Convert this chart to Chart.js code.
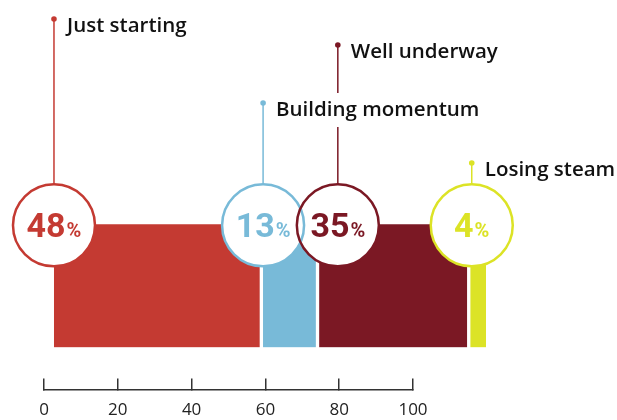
<!DOCTYPE html>
<html>
<head>
<meta charset="utf-8">
<script src="https://cdn.jsdelivr.net/npm/chart.js@4.4.1/dist/chart.umd.min.js"></script>
<style>
html, body { margin: 0; padding: 0; background: #fff; }
#wrap { width: 617px; height: 420px; }
</style>
</head>
<body>
<div id="wrap"><canvas id="mycanvas" width="617" height="420"></canvas></div>
<script>
var stages = ['Just starting', 'Building momentum', 'Well underway', 'Losing steam'];
var shares = [48, 13, 35, 4];
var colours = ['#c43a32', '#78bad8', '#7b1824', '#dce326'];
// where each percentage bubble sits along the bar (bar units)
var markerAt = [0, 48.4, 65.7, 96.7];
var axisTicks = [0, 20, 40, 60, 80, 100];

// height of the leader dot for each label
var dotY = [19, 103, 45, 163];

var markers = {
    id: 'markers',
    afterDatasetsDraw: function(chart) {
        var ctx = chart.ctx;
        var xb = chart.scales.xb;
        var bar = chart.getDatasetMeta(0).data[0];
        var cy = bar.y - bar.height / 2 + 1;
        var r = 41;
        var xs = markerAt.map(function(v) { return xb.getPixelForValue(v); });

        ctx.save();
        // leader lines + dots
        for (var i = 0; i < stages.length; i++) {
            ctx.strokeStyle = colours[i];
            ctx.fillStyle = colours[i];
            ctx.lineWidth = 1.5;
            ctx.beginPath();
            ctx.moveTo(xs[i], dotY[i]);
            ctx.lineTo(xs[i], cy - r);
            ctx.stroke();
            ctx.beginPath();
            ctx.arc(xs[i], dotY[i], 2.8, 0, Math.PI * 2);
            ctx.fill();
        }
        // labels, with a white backing so they cut through other lines
        ctx.font = '600 20.5px "Open Sans"';
        ctx.textBaseline = 'middle';
        ctx.textAlign = 'left';
        for (var i = 0; i < stages.length; i++) {
            var tx = xs[i] + 13, ty = dotY[i] + 7;
            var w = ctx.measureText(stages[i]).width;
            ctx.fillStyle = '#fff';
            ctx.fillRect(tx - 4, ty - 17, w + 8, 34);
            ctx.fillStyle = '#111';
            ctx.fillText(stages[i], tx, ty);
        }
        // bubbles: fills first, then outlines so both arcs show where they overlap
        for (var i = 0; i < stages.length; i++) {
            ctx.fillStyle = '#fff';
            ctx.beginPath();
            ctx.arc(xs[i], cy, r, 0, Math.PI * 2);
            ctx.fill();
        }
        for (var i = 0; i < stages.length; i++) {
            ctx.strokeStyle = colours[i];
            ctx.lineWidth = 2.5;
            ctx.beginPath();
            ctx.arc(xs[i], cy, r, 0, Math.PI * 2);
            ctx.stroke();

            var num = String(shares[i]);
            ctx.font = 'bold 34px Roboto';
            var wn = ctx.measureText(num).width;
            ctx.font = 'bold 20px Roboto';
            var wp = ctx.measureText('%').width;
            var x0 = xs[i] - (wn + wp + 1) / 2;
            ctx.fillStyle = colours[i];
            ctx.textBaseline = 'alphabetic';
            ctx.font = 'bold 34px Roboto';
            ctx.fillText(num, x0, cy + 12);
            ctx.font = 'bold 20px Roboto';
            ctx.fillText('%', x0 + wn + 1, cy + 12);
        }
        ctx.restore();
    }
};

var datasets = [];
for (var i = 0; i < stages.length; i++) {
    datasets.push({
        label: stages[i],
        data: [shares[i]],
        backgroundColor: colours[i],
        borderColor: '#fff',
        borderWidth: { top: 0, bottom: 0, left: i === 0 ? 0 : 2, right: i === stages.length - 1 ? 0 : 2 },
        borderSkipped: false,
        xAxisID: 'xb',
        barThickness: 123,
        clip: false
    });
}

var ctx = document.getElementById('mycanvas');
var chart = new Chart(ctx, {
    type: 'bar',
    data: { labels: ['Progress'], datasets: datasets },
    options: {
        indexAxis: 'y',
        responsive: false,
        animation: false,
        layout: { padding: { left: 44, right: 204, top: 182, bottom: -21 } },
        plugins: { legend: { display: false }, tooltip: { enabled: false } },
        scales: {
            y: { type: 'category', display: false, stacked: true },
            xb: { type: 'linear', axis: 'x', position: 'bottom', display: false, stacked: true, min: -2.31, max: 83.1 },
            x: {
                type: 'linear', position: 'bottom', min: 0, max: 100,
                afterBuildTicks: function(scale) {
                    scale.ticks = axisTicks.map(function(v) { return { value: v }; });
                },
                grid: { drawOnChartArea: false, drawTicks: true, tickLength: -11, color: '#333', lineWidth: 1.5 },
                border: { display: true, color: '#333', width: 1.5 },
                ticks: { padding: 21, color: '#222', font: { family: 'Open Sans', size: 17 } }
            }
        }
    },
    plugins: [markers]
});
</script>
</body>
</html>
